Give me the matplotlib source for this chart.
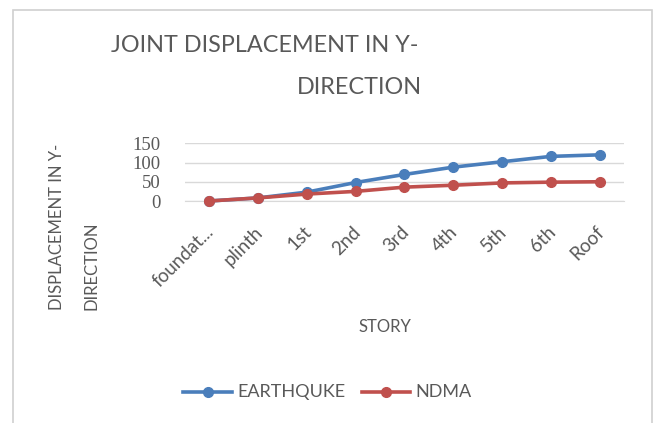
import matplotlib
matplotlib.use("Agg")
import matplotlib.pyplot as plt
from matplotlib.patches import Rectangle
from matplotlib.lines import Line2D
from matplotlib.transforms import ScaledTranslation

stories = ["foundat...", "plinth", "1st", "2nd", "3rd", "4th", "5th", "6th", "Roof"]
earthquake = [0, 8, 23, 48, 69, 88, 102, 116, 120]
ndma = [0, 8, 18, 25, 36, 41, 47, 49, 50]
y_ticks = [0, 50, 100, 150]

W, H = 654, 423
fig = plt.figure(figsize=(W / 100, H / 100), dpi=100)
fig.patch.set_facecolor("white")

txt = "#595959"
blue = "#4a7ebb"
red = "#c0504d"
sans = ["Lato", "DejaVu Sans"]

def fx(px):
    return px / W

def fy(py):
    return 1 - py / H

# chart frame
fig.patches.append(Rectangle((fx(13), fy(430)), fx(652) - fx(13), fy(10) - fy(430),
                             transform=fig.transFigure, fill=False,
                             edgecolor="#d0d0d0", linewidth=1.2))

left, right = 184.6, 624.2
top, bottom = 143.3, 201.0
ax = fig.add_axes([fx(left), fy(bottom), fx(right) - fx(left), fy(top) - fy(bottom)])
x = list(range(len(stories)))
ax.plot(x, earthquake, color=blue, lw=2.6, marker="o", ms=7, zorder=3, clip_on=False)
ax.plot(x, ndma, color=red, lw=2.6, marker="o", ms=7, zorder=4, clip_on=False)
ax.set_xlim(-0.5, len(stories) - 0.5)
ax.set_ylim(0, 150)
ax.set_yticks(y_ticks)
ax.set_yticklabels([str(v) for v in y_ticks], family=["Liberation Serif"], fontsize=13.5, color=txt)
ax.yaxis.grid(True, color="#d9d9d9", lw=1)
ax.set_axisbelow(True)
for s in ["top", "right", "left"]:
    ax.spines[s].set_visible(False)
ax.spines["bottom"].set_color("#d9d9d9")
ax.tick_params(axis="y", length=0, pad=17)
ax.tick_params(axis="x", length=0, pad=16)
ax.set_xticks(x)
ax.set_xticklabels(stories, rotation=45, ha="right", va="top", rotation_mode="anchor",
                   family=sans, fontsize=13.5, color=txt)
shift = ScaledTranslation(-0.04, 0, fig.dpi_scale_trans)
for lbl in ax.get_xticklabels():
    lbl.set_transform(lbl.get_transform() + shift)

# title
fig.text(fx(265), fy(46), "JOINT DISPLACEMENT IN Y-", ha="center", va="center",
         family=sans, fontsize=16.8, color=txt)
fig.text(fx(359), fy(88), "DIRECTION", ha="center", va="center",
         family=sans, fontsize=16.8, color=txt)

# y-axis title
fig.text(fx(57), fy(310), "DISPLACEMENT IN Y-", ha="center", va="bottom", rotation=90,
         family=sans, fontsize=12, color=txt)
fig.text(fx(92), fy(310), "DIRECTION", ha="center", va="bottom", rotation=90,
         family=sans, fontsize=12, color=txt)

# x-axis title
fig.text(fx(385), fy(327), "STORY", ha="center", va="center",
         family=sans, fontsize=12, color=txt)

# legend
ly = fy(392)
for x0, x1, c, label in [(183, 232, blue, "EARTHQUKE"), (362, 410, red, "NDMA")]:
    fig.lines.append(Line2D([fx(x0), fx(x1)], [ly, ly], transform=fig.transFigure,
                            color=c, lw=2.6))
    fig.lines.append(Line2D([fx((x0 + x1) / 2)], [ly], transform=fig.transFigure,
                            color=c, marker="o", ms=7))
    fig.text(fx(x1 + 5), ly, label, ha="left", va="center", family=sans,
             fontsize=13, color=txt)

fig.savefig("out.png", dpi=100, facecolor="white")
